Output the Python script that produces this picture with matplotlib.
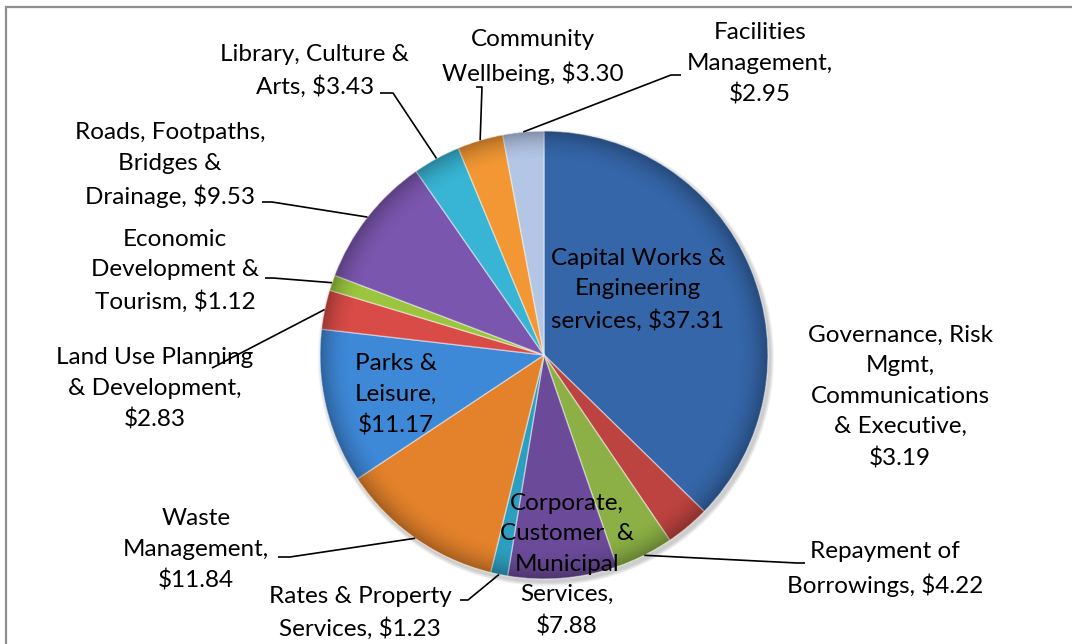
import numpy as np
import matplotlib.pyplot as plt
from matplotlib.patches import Rectangle, Circle

plt.rcParams['font.family'] = ['Lato', 'DejaVu Sans']

categories = [
    'Capital Works &\nEngineering\nservices',
    'Governance, Risk\nMgmt,\nCommunications\n& Executive',
    'Repayment of\nBorrowings',
    'Corporate,\nCustomer  &\nMunicipal\nServices',
    'Rates & Property\nServices',
    'Waste\nManagement',
    'Parks &\nLeisure',
    'Land Use Planning\n& Development',
    'Economic\nDevelopment &\nTourism',
    'Roads, Footpaths,\nBridges &\nDrainage',
    'Library, Culture &\nArts',
    'Community\nWellbeing',
    'Facilities\nManagement',
]
values = [37.31, 3.19, 4.22, 7.88, 1.23, 11.84, 11.17, 2.83, 1.12, 9.53, 3.43, 3.30, 2.95]
# how the value is joined to the name: same line or next line
joins = [', ', ',\n', ', ', ',\n', ', ', ',\n', ',\n', ',\n', ', ', ', ', ', ', ', ', ',\n']
colors = ['#3566a9', '#bd4340', '#8cb045', '#6b4a99', '#2d9ec0', '#e4822b', '#3e88d8',
          '#d84b47', '#9bc53f', '#7b56ae', '#38b4d4', '#f29733', '#b4c6e6']

W, H = 1072, 644
cx, cy, R = 544, 355, 224

def P(x, y):
    # pixel position (origin top-left) -> data coords
    return x, H - y

# label centre (pixel) and leader path from the label end to its elbow
label_pos = [(638, 290), (900, 397), (885, 569), (567, 565), (360, 613), (196, 550),
             (396, 395), (155, 389), (175, 271), (170, 165), (315, 71), (533, 57), (760, 64)]
leaders = {
    2: [(805, 563), (797, 563)],
    4: [(460, 600), (468, 600)],
    5: [(278, 557), (290, 557)],
    7: [(212, 368)],
    8: [(265, 278), (273, 278)],
    9: [(262, 202), (272, 202)],
    10: [(380, 93), (393, 93)],
    11: [(476, 87), (482, 87)],
    12: [(681, 75), (671, 75)],
}

fig = plt.figure(figsize=(W / 100, H / 100), dpi=100)
ax = fig.add_axes([0, 0, 1, 1])

# soft shadow under the pie
for k in range(4):
    ax.add_patch(Circle(P(cx + 2, cy + 3), R + 1 + k, color='black', alpha=0.05, lw=0, zorder=1))

wedges, _ = ax.pie(values, colors=colors, startangle=90, counterclock=False,
                   center=P(cx, cy), radius=R, frame=True,
                   wedgeprops=dict(edgecolor=(1, 1, 1, 0.45), linewidth=1.0, zorder=2))

# darker rim to give the slices a rounded look
n = 600
g = np.linspace(-1, 1, n)
xx, yy = np.meshgrid(g, g)
rr = np.sqrt(xx ** 2 + yy ** 2)
shade = np.zeros((n, n, 4))
alpha = np.clip((rr - 0.86) / 0.14, 0, 1) ** 2 * 0.28
alpha[rr > 1] = 0
shade[..., 3] = alpha
img = ax.imshow(shade, extent=[cx - R, cx + R, H - cy - R, H - cy + R], zorder=3, interpolation='bilinear')
img.set_clip_path(Circle(P(cx, cy), R, transform=ax.transData))

for i, (name, v) in enumerate(zip(categories, values)):
    x, y = label_pos[i]
    ax.text(*P(x, y), f'{name}{joins[i]}${v:.2f}', ha='center', va='center',
            fontsize=17.5, linespacing=1.56, color='black', zorder=6)

for i, path in leaders.items():
    w = wedges[i]
    mid = np.radians((w.theta1 + w.theta2) / 2)
    px, py = cx + R * np.cos(mid), (H - cy) + R * np.sin(mid)
    xs = [p[0] for p in path] + [px]
    ys = [H - p[1] for p in path] + [py]
    ax.plot(xs, ys, color='black', lw=1.2, zorder=5, solid_capstyle='butt')

# chart frame
ax.add_patch(Rectangle((6, -20), W + 20, H - 7 + 20, fill=False, edgecolor='#8f8f8f', lw=1.6, zorder=7))

ax.set_xlim(0, W)
ax.set_ylim(0, H)
ax.set_aspect('equal')
ax.axis('off')

fig.savefig('out.png', dpi=100)
